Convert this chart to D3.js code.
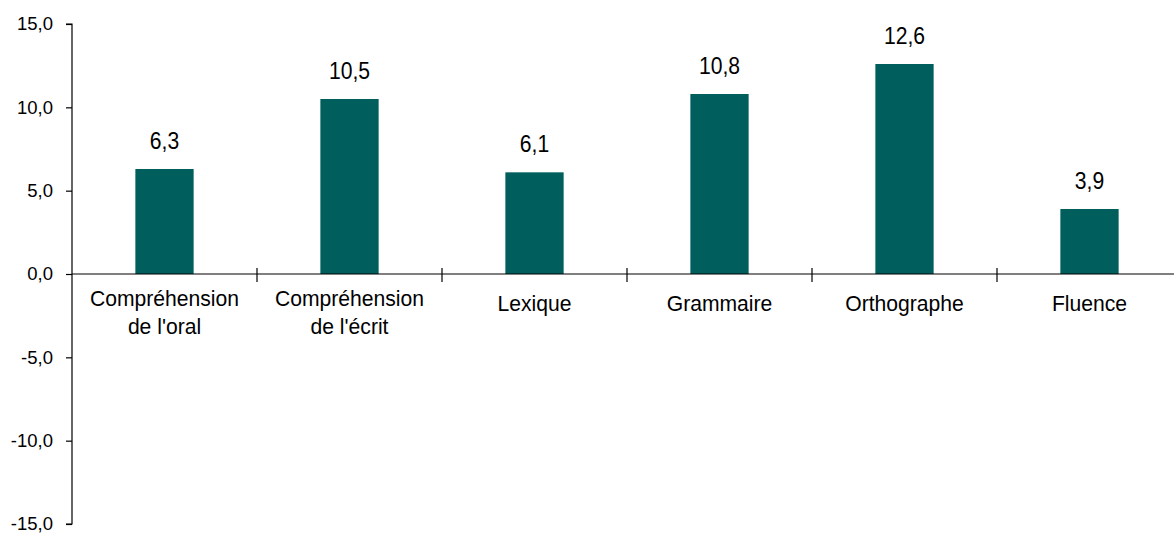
<!DOCTYPE html>
<html>
<head>
<meta charset="utf-8">
<script src="https://cdn.jsdelivr.net/npm/d3@7"></script>
<style>
  body { margin: 0; background: #fff; }
  text { font-family: "Liberation Sans", Arial, sans-serif; fill: #000; }
</style>
</head>
<body>
<div id="chart"></div>
<script>
const categories = [
  ['Compréhension', "de l'oral"],
  ['Compréhension', "de l'écrit"],
  ['Lexique'],
  ['Grammaire'],
  ['Orthographe'],
  ['Fluence']
]
const values = [6.3, 10.5, 6.1, 10.8, 12.6, 3.9]
const yTicks = [15, 10, 5, 0, -5, -10, -15]

const width = 1174
const height = 533
const margin = { top: 24, right: 0, bottom: 9, left: 72 }

// French decimal comma, plain hyphen for negatives
const fmt = v => v.toFixed(1).replace('.', ',')

const svg = d3.select('#chart')
  .append('svg')
  .attr('width', width)
  .attr('height', height)

const y = d3.scaleLinear()
  .domain([-15, 15])
  .range([height - margin.bottom, margin.top])

// category bands, 185px each starting at the y axis
const x = d3.scaleBand()
  .domain(d3.range(categories.length))
  .range([margin.left, margin.left + 185 * categories.length])
  .paddingInner(0)

const barW = x.bandwidth() * 0.315

// y axis
svg.append('g')
  .attr('transform', 'translate(' + margin.left + ',0)')
  .call(d3.axisLeft(y).tickValues(yTicks).tickFormat(fmt).tickSize(6).tickPadding(13))
  .call(g => g.selectAll('path, line').attr('stroke', '#000').attr('stroke-width', 1.2))
  .call(g => g.select('.domain').attr('d', 'M-6,' + y(15) + 'H0V' + y(-15) + 'H-6'))
  .call(g => g.selectAll('text').attr('font-size', 18.5).attr('font-family', '"Liberation Sans", Arial, sans-serif'))

// bars
svg.selectAll('rect.bar')
  .data(values)
  .enter()
  .append('rect')
  .attr('class', 'bar')
  .attr('x', (d, i) => x(i) + x.bandwidth() / 2 - barW / 2)
  .attr('width', barW)
  .attr('y', d => y(Math.max(0, d)))
  .attr('height', d => Math.abs(y(d) - y(0)))
  .attr('fill', '#005e5c')

// x axis line with separators between categories
svg.append('line')
  .attr('x1', margin.left)
  .attr('x2', width)
  .attr('y1', y(0))
  .attr('y2', y(0))
  .attr('stroke', '#000')
  .attr('stroke-width', 1.2)

svg.selectAll('line.sep')
  .data(d3.range(1, categories.length))
  .enter()
  .append('line')
  .attr('class', 'sep')
  .attr('x1', i => x(i))
  .attr('x2', i => x(i))
  .attr('y1', y(0) - 6)
  .attr('y2', y(0) + 8)
  .attr('stroke', '#000')
  .attr('stroke-width', 1.2)

// value labels
svg.selectAll('text.val')
  .data(values)
  .enter()
  .append('text')
  .attr('class', 'val')
  .attr('text-anchor', 'middle')
  .attr('font-size', 23)
  .attr('transform', (d, i) => 'translate(' + (x(i) + x.bandwidth() / 2) + ',' + (y(d) - 20) + ') scale(0.92,1)')
  .text(d => fmt(d))

// category labels
const cat = svg.selectAll('text.cat')
  .data(categories)
  .enter()
  .append('text')
  .attr('class', 'cat')
  .attr('text-anchor', 'middle')
  .attr('font-size', 22)
  .attr('transform', (d, i) => 'translate(' + (x(i) + x.bandwidth() / 2) + ',' + (d.length > 1 ? 306 : 311) + ') scale(0.96,1)')

cat.selectAll('tspan')
  .data(d => d)
  .enter()
  .append('tspan')
  .attr('x', 0)
  .attr('dy', (d, j) => j === 0 ? 0 : 28)
  .text(d => d)
</script>
</body>
</html>
